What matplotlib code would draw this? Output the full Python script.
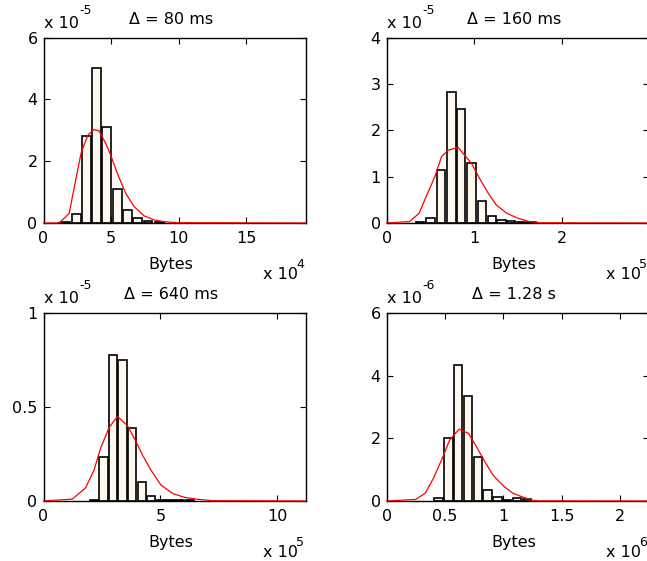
import matplotlib
matplotlib.use('Agg')
import matplotlib.pyplot as plt

plt.rcParams['font.family'] = 'DejaVu Sans'

# ---------------- data (x in units of 10^xexp bytes, y in units of 10^yexp) -------------
titles = ['Δ = 80 ms', 'Δ = 160 ms', 'Δ = 640 ms', 'Δ = 1.28 s']
x_exps = [4, 5, 5, 6]
y_exps = [-5, -5, -5, -6]
x_limits = [19.4, 2.99, 11.2, 2.245]
y_limits = [6, 4, 1, 6]
x_ticks = [[0, 5, 10, 15], [0, 1, 2], [0, 5, 10], [0, 0.5, 1, 1.5, 2]]
y_ticks = [[0, 2, 4, 6], [0, 1, 2, 3, 4], [0, 0.5, 1], [0, 2, 4, 6]]
x_ticklabels = [['0', '5', '10', '15'], ['0', '1', '2'], ['0', '5', '10'],
                ['0', '0.5', '1', '1.5', '2']]
y_ticklabels = [['0', '2', '4', '6'], ['0', '1', '2', '3', '4'], ['0', '0.5', '1'],
                ['0', '2', '4', '6']]

# histogram bars
bin_width = [0.765, 0.113, 0.41, 0.084]
bars1_x = [1.65, 2.42, 3.19, 3.92, 4.66, 5.46, 6.2, 6.96, 7.74, 8.6]
bars1_h = [0.02, 0.29, 2.8, 5.0, 3.1, 1.1, 0.42, 0.15, 0.06, 0.03]
bars2_x = [0.385, 0.50, 0.62, 0.74, 0.85, 0.965, 1.085, 1.20, 1.31, 1.42, 1.53, 1.65]
bars2_h = [0.02, 0.10, 1.14, 2.82, 2.45, 1.30, 0.48, 0.15, 0.065, 0.05, 0.02, 0.03]
bars3_x = [2.15, 2.56, 2.97, 3.38, 3.79, 4.20, 4.61, 5.02, 5.43, 5.84, 6.25]
bars3_h = [0.006, 0.236, 0.775, 0.75, 0.39, 0.10, 0.027, 0.005, 0.004, 0.004, 0.006]
bars4_x = [0.445, 0.529, 0.613, 0.697, 0.781, 0.865, 0.949, 1.033, 1.117, 1.201]
bars4_h = [0.09, 2.0, 4.35, 3.35, 1.42, 0.35, 0.14, 0.04, 0.08, 0.05]

# fitted density curves (red)
fit1_x = [0, 1.0, 1.26, 1.9, 2.3, 2.8, 3.3, 3.74, 4.11, 4.61, 4.98, 5.47, 6.09, 6.71, 7.45,
          8.2, 8.94, 10.0, 19.4]
fit1_y = [0, 0, 0.04, 0.31, 1.2, 2.3, 2.85, 3.02, 2.98, 2.57, 2.19, 1.6, 0.96, 0.53, 0.23,
          0.1, 0.04, 0.01, 0]
fit2_x = [0, 0.26, 0.37, 0.45, 0.55, 0.625, 0.70, 0.815, 0.89, 0.97, 1.06, 1.16, 1.25, 1.37,
          1.5, 1.63, 1.75, 2.99]
fit2_y = [0, 0.03, 0.21, 0.57, 1.0, 1.43, 1.57, 1.63, 1.46, 1.28, 0.96, 0.64, 0.39, 0.21,
          0.1, 0.03, 0.005, 0]
fit3_x = [0, 1.23, 1.80, 2.16, 2.44, 2.80, 3.16, 3.59, 3.94, 4.23, 4.59, 5.02, 5.52, 6.01,
          6.59, 7.2, 11.2]
fit3_y = [0, 0.01, 0.07, 0.165, 0.28, 0.39, 0.45, 0.40, 0.32, 0.245, 0.165, 0.085, 0.04,
          0.02, 0.009, 0.002, 0]
fit4_x = [0, 0.25, 0.33, 0.40, 0.47, 0.54, 0.62, 0.70, 0.77, 0.84, 0.91, 1.0, 1.08, 1.17,
          1.24, 1.3, 2.245]
fit4_y = [0, 0.05, 0.25, 0.72, 1.31, 1.95, 2.29, 2.16, 1.73, 1.26, 0.83, 0.48, 0.25, 0.12,
          0.03, 0.005, 0]

bars_x = [bars1_x, bars2_x, bars3_x, bars4_x]
bars_h = [bars1_h, bars2_h, bars3_h, bars4_h]
fits_x = [fit1_x, fit2_x, fit3_x, fit4_x]
fits_y = [fit1_y, fit2_y, fit3_y, fit4_y]

# ---------------- layout (pixels) -------------
W, H = 647, 561
fig = plt.figure(figsize=(W / 100, H / 100), dpi=100)

def fx(px):
    return px / W

def fy(py):
    return 1 - py / H

# left, top, right, bottom in pixels
rects = [(43.5, 37.5, 305.5, 223), (386.7, 37.5, 648.7, 223),
         (43.5, 313, 305.5, 501), (386.7, 313, 648.7, 501)]

FS = 11.5
FS_EXP = 9
BAR_FACE = '#fdf9ee'

for i in range(4):
    l, t, r, b = rects[i]
    ax = fig.add_axes([fx(l), fy(b), (r - l) / W, (b - t) / H])
    w = bin_width[i] * 0.86
    ax.bar(bars_x[i], bars_h[i], width=w, color=BAR_FACE, edgecolor='black',
           linewidth=1.2, zorder=2)
    ax.plot(fits_x[i], fits_y[i], color='#ff0000', linewidth=0.9, zorder=4, clip_on=False)
    ax.set_xlim(0, x_limits[i])
    ax.set_ylim(0, y_limits[i])
    ax.set_xticks(x_ticks[i])
    ax.set_xticklabels(x_ticklabels[i])
    ax.set_yticks(y_ticks[i])
    ax.set_yticklabels(y_ticklabels[i])
    ax.tick_params(axis='both', direction='in', length=4, width=0.8, top=True, right=True,
                   labelsize=FS, colors='black')
    ax.tick_params(axis='x', pad=6)
    ax.tick_params(axis='y', pad=4.3)
    for s in ax.spines.values():
        s.set_linewidth(1.0)
        s.set_zorder(3)

    cx = (l + r) / 2 - 3.5
    # title
    fig.text(fx(cx), fy(t - 14), titles[i], ha='center', va='baseline', fontsize=FS)
    # y multiplier
    fig.text(fx(l + 0.5), fy(t - 9.7), 'x 10', ha='left', va='baseline', fontsize=FS)
    fig.text(fx(l + 35.5), fy(t - 24), str(y_exps[i]), ha='left', va='baseline',
             fontsize=FS_EXP)
    # x label
    fig.text(fx(cx), fy(b + 45.5), 'Bytes', ha='center', va='baseline', fontsize=FS)
    # x multiplier
    fig.text(fx(r - 42.5), fy(b + 56), 'x 10', ha='left', va='baseline', fontsize=FS)
    fig.text(fx(r - 9.5), fy(b + 45), str(x_exps[i]), ha='left', va='baseline',
             fontsize=FS_EXP)

fig.savefig('out.png', dpi=100)
